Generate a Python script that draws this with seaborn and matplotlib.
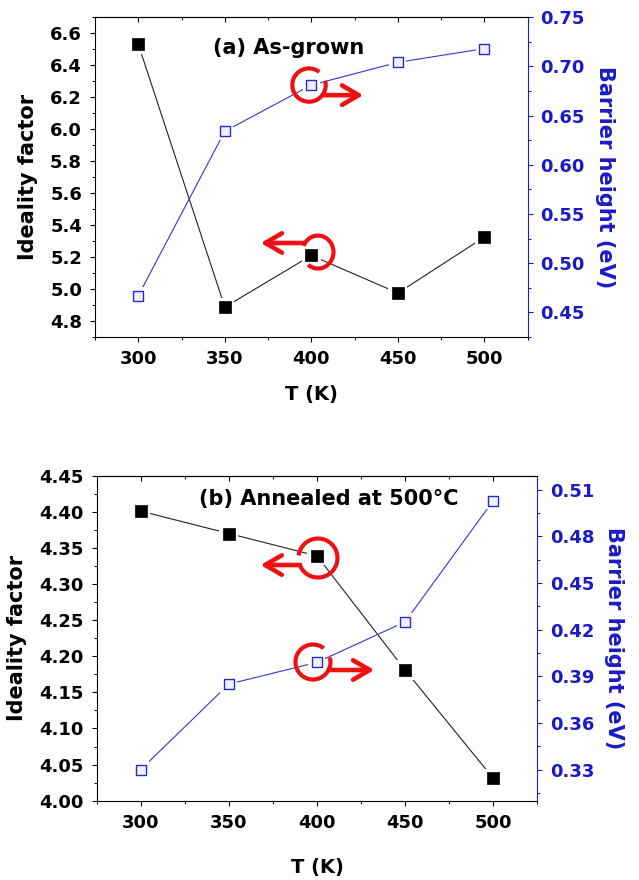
import numpy as np
import matplotlib
matplotlib.use("Agg")
import matplotlib.pyplot as plt
from matplotlib.patches import Arc
from matplotlib.ticker import MultipleLocator, FormatStrFormatter
import seaborn as sns

sns.set_style("ticks")
plt.rcParams['font.family'] = ['DejaVu Sans']
plt.rcParams['font.weight'] = 'bold'
plt.rcParams['text.color'] = 'black'
plt.rcParams['axes.labelcolor'] = 'black'
plt.rcParams['xtick.color'] = 'black'
plt.rcParams['ytick.color'] = 'black'
plt.rcParams['axes.edgecolor'] = 'black'

# data
temps = [300, 350, 400, 450, 500]
n_grown = [6.53, 4.887, 5.21, 4.975, 5.325]
phi_grown = [0.467, 0.634, 0.681, 0.704, 0.718]
n_annealed = [4.401, 4.370, 4.339, 4.181, 4.031]
phi_annealed = [0.330, 0.385, 0.399, 0.425, 0.503]

titles = ["(a) As-grown", "(b) Annealed at 500°C"]

BLUE = '#1a1ac8'
RED = '#ee1111'


def style_axes(ax, ax2, yl, ymaj, ymin, yfmt, yl2, ymaj2, ymin2, xpad):
    ax.set_xlim(275, 525)
    ax.set_ylim(*yl)
    ax2.set_ylim(*yl2)
    ax.xaxis.set_major_locator(MultipleLocator(50))
    ax.xaxis.set_minor_locator(MultipleLocator(25))
    ax.yaxis.set_major_locator(MultipleLocator(ymaj))
    ax.yaxis.set_minor_locator(MultipleLocator(ymin))
    ax.yaxis.set_major_formatter(FormatStrFormatter(yfmt))
    ax2.yaxis.set_major_locator(MultipleLocator(ymaj2))
    ax2.yaxis.set_minor_locator(MultipleLocator(ymin2))
    ax2.yaxis.set_major_formatter(FormatStrFormatter('%.2f'))

    ax.tick_params(which='major', direction='out', length=3.3, width=0.8,
                   labelsize=13, pad=6, right=False, colors='black')
    ax.tick_params(which='minor', direction='out', length=2, width=0.7, right=False,
                   colors='black')
    ax2.tick_params(which='major', direction='out', length=3.3, width=0.8,
                    labelsize=13, pad=6, colors=BLUE)
    ax2.tick_params(which='minor', direction='out', length=2, width=0.7, colors=BLUE)
    for t in ax.get_xticklabels() + ax.get_yticklabels() + ax2.get_yticklabels():
        t.set_fontweight('bold')

    top = ax.secondary_xaxis('top')
    top.xaxis.set_major_locator(MultipleLocator(50))
    top.xaxis.set_minor_locator(MultipleLocator(25))
    top.tick_params(which='major', direction='in', length=3.3, width=0.8, labeltop=False,
                    colors='black')
    top.tick_params(which='minor', direction='in', length=2, width=0.7, colors='black')
    top.spines['top'].set_linewidth(0.8)
    top.spines['top'].set_color('black')

    for s in ['left', 'bottom', 'top']:
        ax.spines[s].set_linewidth(0.8)
        ax.spines[s].set_color('black')
        ax2.spines[s].set_visible(False)
    ax.spines['right'].set_visible(False)
    ax2.spines['right'].set_visible(True)
    ax2.spines['right'].set_color(BLUE)
    ax2.spines['right'].set_linewidth(0.8)

    ax.set_xlabel("T (K)", fontsize=14, fontweight='bold', labelpad=xpad, color='black')
    ax.set_ylabel("Ideality factor", fontsize=15, fontweight='bold', labelpad=9,
                  color='black')
    ax2.set_ylabel("Barrier height (eV)", fontsize=15, fontweight='bold',
                   color=BLUE, rotation=270, va='bottom', labelpad=7)


def draw_series(ax, ax2, n, phi):
    sns.lineplot(x=temps, y=n, ax=ax, color='#222222', lw=0.8)
    sns.scatterplot(x=temps, y=n, ax=ax, marker='s', s=190, color='white',
                    edgecolor='none', zorder=3)
    sns.scatterplot(x=temps, y=n, ax=ax, marker='s', s=72, color='black',
                    edgecolor='black', linewidth=0.5, zorder=4)
    sns.lineplot(x=temps, y=phi, ax=ax2, color='#3535d8', lw=0.8)
    sns.scatterplot(x=temps, y=phi, ax=ax2, marker='s', s=150, color='white',
                    edgecolor='none', zorder=3)
    sns.scatterplot(x=temps, y=phi, ax=ax2, marker='s', s=55, color='#eef0ff',
                    edgecolor='#2a2ac8', linewidth=1.0, zorder=4)


def circle_arrow(ax, center, w, h, t1, t2, start, end):
    ax.add_patch(Arc(center, w, h, theta1=t1, theta2=t2, transform=ax.transAxes,
                     color=RED, lw=3, zorder=6, clip_on=False))
    ax.annotate('', xy=end, xytext=start, xycoords='axes fraction',
                textcoords='axes fraction', zorder=6,
                arrowprops=dict(arrowstyle='->,head_length=0.6,head_width=0.35',
                                lw=3.3, color=RED, shrinkA=0, shrinkB=0,
                                mutation_scale=20))


fig = plt.figure(figsize=(6.39, 8.80), dpi=100)

# panel (a)
axa = fig.add_axes([0.1487, 0.6170, 0.6771, 0.3636])
axa2 = axa.twinx()
draw_series(axa, axa2, n_grown, phi_grown)
style_axes(axa, axa2, (4.7, 6.7), 0.2, 0.1, '%.1f', (0.425, 0.75), 0.05, 0.025, 12)
axa.text(0.447, 0.903, titles[0], transform=axa.transAxes, ha='center', va='center',
         fontsize=15, fontweight='bold', color='black')
circle_arrow(axa2, (0.4946, 0.7875), 0.0772, 0.104, 60, 380, (0.528, 0.756), (0.620, 0.756))
circle_arrow(axa2, (0.5154, 0.2656), 0.0716, 0.103, 240, 510, (0.483, 0.294), (0.383, 0.294))

# panel (b)
axb = fig.add_axes([0.1513, 0.0901, 0.6895, 0.3693])
axb2 = axb.twinx()
draw_series(axb, axb2, n_annealed, phi_annealed)
style_axes(axb, axb2, (4.0, 4.45), 0.05, 0.025, '%.2f', (0.310, 0.519), 0.03, 0.015, 19)
axb.text(0.527, 0.928, titles[1], transform=axb.transAxes, ha='center', va='center',
         fontsize=15, fontweight='bold', color='black')
circle_arrow(axb2, (0.5023, 0.7468), 0.0885, 0.12, 200, 530, (0.4614, 0.7252), (0.372, 0.7252))
circle_arrow(axb2, (0.4909, 0.4268), 0.0794, 0.1077, 60, 380, (0.5297, 0.4022), (0.630, 0.4022))

fig.savefig("out.png", dpi=100)
